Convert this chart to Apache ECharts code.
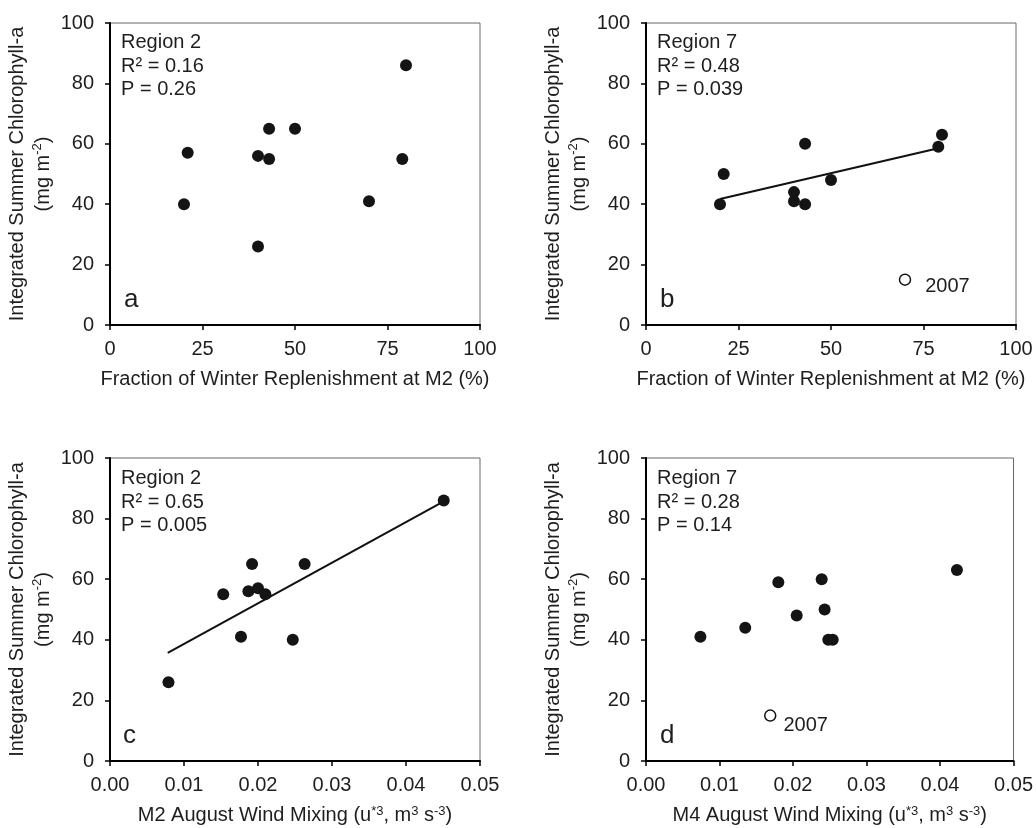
<!DOCTYPE html>
<html>
<head>
<meta charset="utf-8">
<script src="https://cdn.jsdelivr.net/npm/echarts@6/dist/echarts.min.js"></script>
<style>
  html, body { margin: 0; padding: 0; background: #fff; }
  #chartdiv { width: 1036px; height: 828px; }
</style>
</head>
<body>
<div id="chartdiv"></div>
<script>
// Panel a: Region 2 vs. winter replenishment at M2
var panelA = [[20, 40], [21, 57], [40, 56], [40, 26], [43, 65], [43, 55], [50, 65], [70, 41], [79, 55], [80, 86]];

// Panel b: Region 7 vs. winter replenishment at M2 (2007 drawn open, excluded from fit)
var panelB = [[20, 40], [21, 50], [40, 44], [40, 41], [43, 60], [43, 40], [50, 48], [79, 59], [80, 63]];
var panelBOutlier = [[70, 15]];
var panelBFit = [[20, 41.7], [79, 58.5]];

// Panel c: Region 2 vs. M2 August wind mixing
var panelC = [[0.0079, 26], [0.0153, 55], [0.0177, 41], [0.0187, 56], [0.0192, 65], [0.0200, 57], [0.0210, 55], [0.0247, 40], [0.0263, 65], [0.0451, 86]];
var panelCFit = [[0.0078, 35.7], [0.0451, 85.7]];

// Panel d: Region 7 vs. M4 August wind mixing
var panelD = [[0.0074, 41], [0.0135, 44], [0.0180, 59], [0.0205, 48], [0.0239, 60], [0.0243, 50], [0.0248, 40], [0.0254, 40], [0.0423, 63]];
var panelDOutlier = [[0.0169, 15]];

var statsText = ['Region 2\nR² = 0.16\nP = 0.26', 'Region 7\nR² = 0.48\nP = 0.039', 'Region 2\nR² = 0.65\nP = 0.005', 'Region 7\nR² = 0.28\nP = 0.14'];
var panelLetters = ['a', 'b', 'c', 'd'];
var xNames = ['Fraction of Winter Replenishment at M2 (%)', 'Fraction of Winter Replenishment at M2 (%)',
              'M2 August Wind Mixing (u{sup|*3}, m{sup|3} s{sup|-3})', 'M4 August Wind Mixing (u{sup|*3}, m{sup|3} s{sup|-3})'];
var yName = 'Integrated Summer Chlorophyll-a\n(mg m{sup|-2})';

var FONT = '"Liberation Sans", Arial, sans-serif';
var INK = '#1e1e1e';

var grids = [
    { left: 110, top: 23, width: 370, height: 302 },
    { left: 646, top: 23, width: 370, height: 302 },
    { left: 110, top: 458, width: 370, height: 303 },
    { left: 646, top: 458, width: 370, height: 303 }
];
grids.forEach(function(g) {
    g.show = true;
    g.borderColor = '#666';
    g.borderWidth = 1;
    g.backgroundColor = 'transparent';
});

var supRich = {
    sup: { fontSize: 13, fontFamily: FONT, color: INK, verticalAlign: 'top', lineHeight: 20 }
};

function xAxisFor(i) {
    var wind = i >= 2;
    return {
        type: 'value',
        gridIndex: i,
        min: 0,
        max: wind ? 0.05 : 100,
        interval: wind ? 0.01 : 25,
        name: xNames[i],
        nameLocation: 'middle',
        nameGap: 44,
        nameTextStyle: { fontSize: 20, fontFamily: FONT, color: INK, rich: supRich },
        axisLine: { show: true, onZero: false, lineStyle: { color: '#000', width: 2 } },
        axisTick: { show: true, inside: false, length: 5, lineStyle: { color: '#000', width: 1.5 } },
        axisLabel: {
            fontSize: 20, fontFamily: FONT, color: INK, margin: 14,
            formatter: function(v) { return wind ? v.toFixed(2) : String(v); }
        },
        splitLine: { show: false }
    };
}

function yAxisFor(i) {
    return {
        type: 'value',
        gridIndex: i,
        min: 0,
        max: 100,
        interval: 20,
        name: yName,
        nameLocation: 'middle',
        nameGap: 50,
        nameTextStyle: { fontSize: 20, lineHeight: 26, fontFamily: FONT, color: INK, rich: supRich },
        axisLine: { show: true, onZero: false, lineStyle: { color: '#000', width: 2 } },
        axisTick: { show: true, inside: false, length: 5, lineStyle: { color: '#000', width: 1.5 } },
        axisLabel: { fontSize: 20, fontFamily: FONT, color: INK, margin: 16 },
        splitLine: { show: false }
    };
}

function dots(i, data) {
    return {
        type: 'scatter',
        xAxisIndex: i,
        yAxisIndex: i,
        data: data,
        symbol: 'circle',
        symbolSize: 12,
        itemStyle: { color: '#141414', opacity: 1 },
        z: 3
    };
}

function openDot(i, data, dist, off) {
    return {
        type: 'scatter',
        xAxisIndex: i,
        yAxisIndex: i,
        data: data,
        symbol: 'circle',
        symbolSize: 11,
        itemStyle: { color: '#fff', borderColor: '#141414', borderWidth: 1.5, opacity: 1 },
        label: {
            show: true,
            position: 'right',
            distance: dist,
            offset: off,
            formatter: '2007',
            fontSize: 20,
            fontFamily: FONT,
            color: INK
        },
        z: 3
    };
}

function fitLine(i, data) {
    return {
        type: 'line',
        xAxisIndex: i,
        yAxisIndex: i,
        data: data,
        showSymbol: false,
        symbol: 'none',
        lineStyle: { color: '#111', width: 2 },
        z: 2
    };
}

var statsPos = [[121, 31], [657, 31], [121, 467], [657, 467]];
var letterPos = [[124, 286], [660, 286], [123, 722], [660, 722]];

var titles = [];
statsText.forEach(function(t, i) {
    titles.push({
        text: t,
        left: statsPos[i][0],
        top: statsPos[i][1],
        padding: 0,
        textStyle: { fontSize: 20, lineHeight: 23.5, fontWeight: 'normal', fontFamily: FONT, color: INK }
    });
});
panelLetters.forEach(function(t, i) {
    titles.push({
        text: t,
        left: letterPos[i][0],
        top: letterPos[i][1],
        padding: 0,
        textStyle: { fontSize: 26, lineHeight: 28, fontWeight: 'normal', fontFamily: FONT, color: INK }
    });
});

var options = {
    animation: false,
    backgroundColor: '#fff',
    title: titles,
    grid: grids,
    xAxis: [xAxisFor(0), xAxisFor(1), xAxisFor(2), xAxisFor(3)],
    yAxis: [yAxisFor(0), yAxisFor(1), yAxisFor(2), yAxisFor(3)],
    series: [
        dots(0, panelA),
        fitLine(1, panelBFit),
        dots(1, panelB),
        openDot(1, panelBOutlier, 14, [0, 7]),
        fitLine(2, panelCFit),
        dots(2, panelC),
        dots(3, panelD),
        openDot(3, panelDOutlier, 7, [0, 10])
    ]
};

var chartDom = document.getElementById('chartdiv');
var plot = echarts.init(chartDom);
options && plot.setOption(options);
</script>
</body>
</html>
